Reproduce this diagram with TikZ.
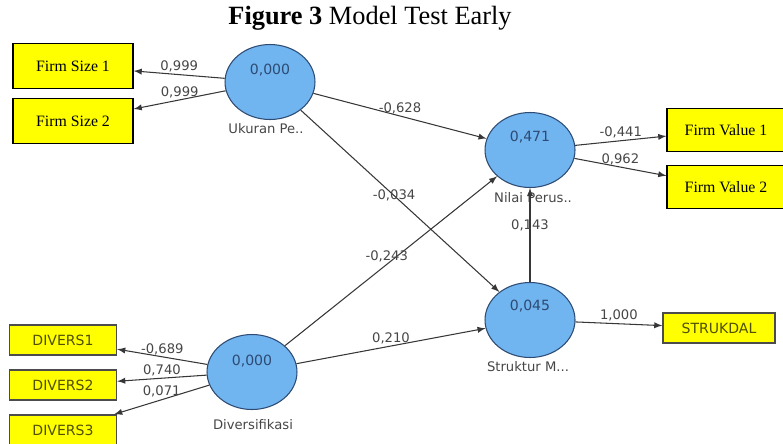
\documentclass[tikz,border=0pt]{standalone}
\usepackage{fontspec}
\setmainfont{Liberation Serif}
\newfontfamily\plsfont{DejaVu Sans}
\usetikzlibrary{shapes.geometric}

\definecolor{lvblue}{RGB}{112,180,240}
\definecolor{lvline}{RGB}{45,75,115}
\definecolor{edgegray}{RGB}{55,55,55}
\definecolor{numgray}{RGB}{70,70,70}
\definecolor{mvyellow}{RGB}{255,255,0}
\definecolor{mvtext}{RGB}{80,80,0}

\tikzset{
  lv/.style={ellipse, draw=lvline, fill=lvblue, line width=0.6pt,
    minimum width=1.8cm, minimum height=1.5cm, inner sep=0pt},
  lvval/.style={font=\plsfont\fontsize{8}{9}\selectfont, text=lvline},
  lvname/.style={font=\plsfont\fontsize{7.5}{9}\selectfont, text=numgray},
  mv/.style={draw=black, fill=mvyellow, line width=0.8pt,
    font=\fontsize{9}{10}\selectfont},
  mvsans/.style={draw=black!70, fill=mvyellow, line width=0.8pt,
    font=\plsfont\fontsize{8}{9}\selectfont, text=mvtext,
    minimum height=0.6cm},
  pth/.style={draw=edgegray, line width=0.6pt, -latex},
  coef/.style={font=\plsfont\fontsize{7.5}{9}\selectfont, text=numgray, inner sep=1pt}
}

\begin{document}
\begin{tikzpicture}[x=0.02cm, y=-0.02cm]
	  \useasboundingbox (0,0) rectangle (783,443);

	  \node (title) at (370,18) {\fontsize{15}{18}\selectfont\textbf{Figure 3} Model Test Early};

	  % indicator boxes
	  \node [ mv, minimum width=2.4cm, minimum height=0.9cm ] (fs1) at (73,66) {Firm Size 1};
	  \node [ mv, minimum width=2.4cm, minimum height=0.9cm ] (fs2) at (73,121) {Firm Size 2};
	  \node [ mv, minimum width=2.36cm, minimum height=0.86cm ] (fv1) at (726,130) {Firm Value 1};
	  \node [ mv, minimum width=2.36cm, minimum height=0.86cm ] (fv2) at (726,187) {Firm Value 2};
	  \node [ mvsans, minimum width=2.24cm ] (strukdal) at (719,328) {STRUKDAL};
	  \node [ mvsans, minimum width=2.14cm ] (div1) at (63,340) {DIVERS1};
	  \node [ mvsans, minimum width=2.14cm ] (div2) at (63,385) {DIVERS2};
	  \node [ mvsans, minimum width=2.14cm ] (div3) at (63,430) {DIVERS3};

	  % latent variables
	  \node [ lv ] (uk) at (270,82) {};
	  \node [ lv ] (nilai) at (530,150) {};
	  \node [ lv ] (struk) at (530,320) {};
	  \node [ lv ] (divers) at (252,372) {};

	  \node [ lvval ] (ukval) at (270,70) {0,000};
	  \node [ lvval ] (nilaival) at (530,137) {0,471};
	  \node [ lvval ] (strukval) at (530,306) {0,045};
	  \node [ lvval ] (diversval) at (252,361) {0,000};

	  \node [ lvname ] (ukname) at (266,129) {Ukuran Pe..};
	  \node [ lvname ] (nilainame) at (533,198) {Nilai Perus..};
	  \node [ lvname ] (strukname) at (528,367) {Struktur M...};
	  \node [ lvname ] (diversname) at (253,425) {Diversifikasi};

	  % paths
	  \draw [ pth ] (uk) -- (fs1) node [ coef, midway, above ] {0,999};
	  \draw [ pth ] (uk) -- (fs2) node [ coef, midway, above ] {0,999};
	  \draw [ pth ] (uk) -- (nilai) node [ coef, midway, above ] {-0,628};
	  \draw [ pth ] (uk) -- (struk) node [ coef, pos=0.47 ] {-0,034};
	  \draw [ pth ] (divers) -- (nilai) node [ coef, pos=0.48, above ] {-0,243};
	  \draw [ pth ] (divers) -- (struk) node [ coef, midway, above ] {0,210};
	  \draw [ pth ] (divers) -- (div1) node [ coef, midway, above ] {-0,689};
	  \draw [ pth ] (divers) -- (div2) node [ coef, midway, above ] {0,740};
	  \draw [ pth ] (divers) -- (div3) node [ coef, midway, above ] {0,071};
	  \draw [ pth ] (struk) -- (nilai) node [ coef, pos=0.6 ] {0,143};
	  \draw [ pth ] (nilai) -- (fv1) node [ coef, midway, above ] {-0,441};
	  \draw [ pth ] (nilai) -- (fv2) node [ coef, midway, above ] {0,962};
	  \draw [ pth ] (struk) -- (strukdal) node [ coef, midway, above ] {1,000};
	\end{tikzpicture}
\end{document}
